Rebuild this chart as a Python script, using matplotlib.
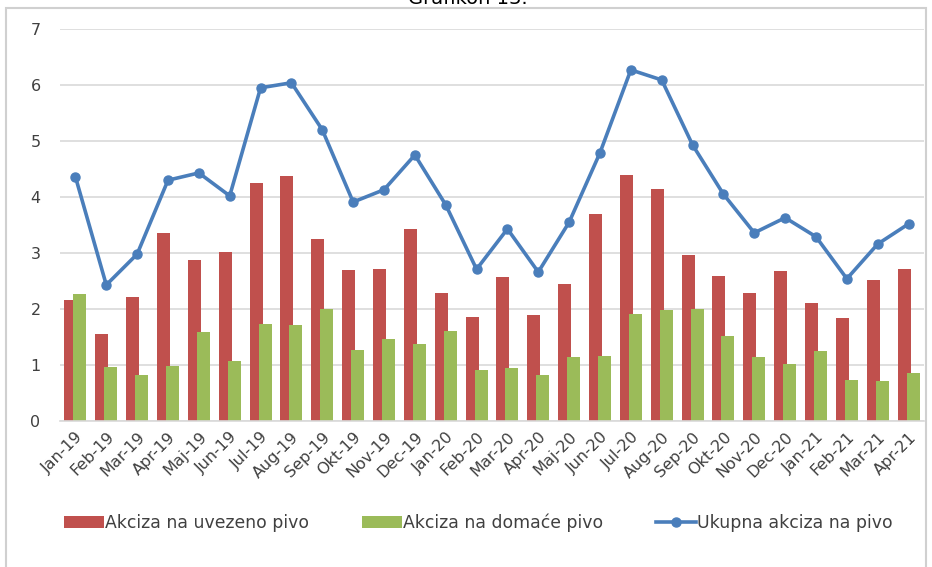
import matplotlib.pyplot as plt
import numpy as np
from matplotlib.patches import Rectangle

months = ["Jan-19", "Feb-19", "Mar-19", "Apr-19", "Maj-19", "Jun-19", "Jul-19",
          "Aug-19", "Sep-19", "Okt-19", "Nov-19", "Dec-19", "Jan-20", "Feb-20",
          "Mar-20", "Apr-20", "Maj-20", "Jun-20", "Jul-20", "Aug-20", "Sep-20",
          "Okt-20", "Nov-20", "Dec-20", "Jan-21", "Feb-21", "Mar-21", "Apr-21"]

uvezeno = [2.16, 1.55, 2.21, 3.36, 2.88, 3.02, 4.25, 4.38, 3.25, 2.70, 2.71, 3.43,
           2.29, 1.86, 2.57, 1.89, 2.45, 3.70, 4.39, 4.14, 2.96, 2.59, 2.29, 2.68,
           2.11, 1.84, 2.52, 2.71]
domace = [2.27, 0.96, 0.82, 0.98, 1.59, 1.07, 1.73, 1.71, 2.00, 1.27, 1.46, 1.38,
          1.61, 0.91, 0.95, 0.82, 1.14, 1.16, 1.91, 1.98, 2.00, 1.52, 1.14, 1.02,
          1.25, 0.73, 0.71, 0.86]
ukupno = [4.36, 2.43, 2.98, 4.30, 4.43, 4.02, 5.95, 6.04, 5.20, 3.91, 4.13, 4.75,
          3.86, 2.71, 3.43, 2.66, 3.55, 4.79, 6.27, 6.09, 4.93, 4.05, 3.36, 3.63,
          3.29, 2.54, 3.16, 3.52]

red = "#C0504D"
green = "#9BBB59"
blue = "#4A7EBB"
txt = "#404040"

fig = plt.figure(figsize=(9.32, 5.67), dpi=100)
# outer frame of the chart area
fig.patches.append(Rectangle((6 / 932, -0.02), 920 / 932, 1 - 8 / 567 + 0.02,
                             transform=fig.transFigure, fill=False,
                             edgecolor="#d0d0d0", linewidth=1.5))
fig.text(0.502, 1 + 2 / 567, "Grafikon 13.", ha="center", va="center",
         fontsize=14, color="black")

ax = fig.add_axes([60 / 932, 1 - 421 / 567, 864 / 932, 392 / 567])

x = np.arange(len(months))
w = 0.42
off = 0.145
b1 = ax.bar(x - off, uvezeno, w, color=red, label="Akciza na uvezeno pivo", zorder=2)
b2 = ax.bar(x + off, domace, w, color=green, label="Akciza na domaće pivo", zorder=2)
l1, = ax.plot(x, ukupno, color=blue, lw=2.6, marker="o", ms=6.5,
              label="Ukupna akciza na pivo", zorder=3)

ax.set_xlim(-0.5, len(months) - 0.5)
ax.set_ylim(0, 7)
ax.set_yticks(range(8))
ax.yaxis.grid(True, color="#d9d9d9", lw=1.2, zorder=0)
for s in ["top", "right", "left"]:
    ax.spines[s].set_visible(False)
ax.spines["bottom"].set_color("#d9d9d9")
ax.spines["bottom"].set_linewidth(1.2)
ax.tick_params(axis="both", length=0, colors=txt, labelsize=11.5)
ax.tick_params(axis="y", pad=14)
ax.set_xticks(x)
ax.set_xticklabels(months, rotation=45, ha="right", rotation_mode="anchor")
ax.tick_params(axis="x", pad=6)

ax.legend(handles=[b1, b2, l1], loc="center", bbox_to_anchor=(0.484, -0.26),
          ncol=3, frameon=False, fontsize=12.4, labelcolor=txt, handlelength=2.3,
          handletextpad=0.05, columnspacing=3.1, borderpad=0)

fig.savefig("out.png", dpi=100)
